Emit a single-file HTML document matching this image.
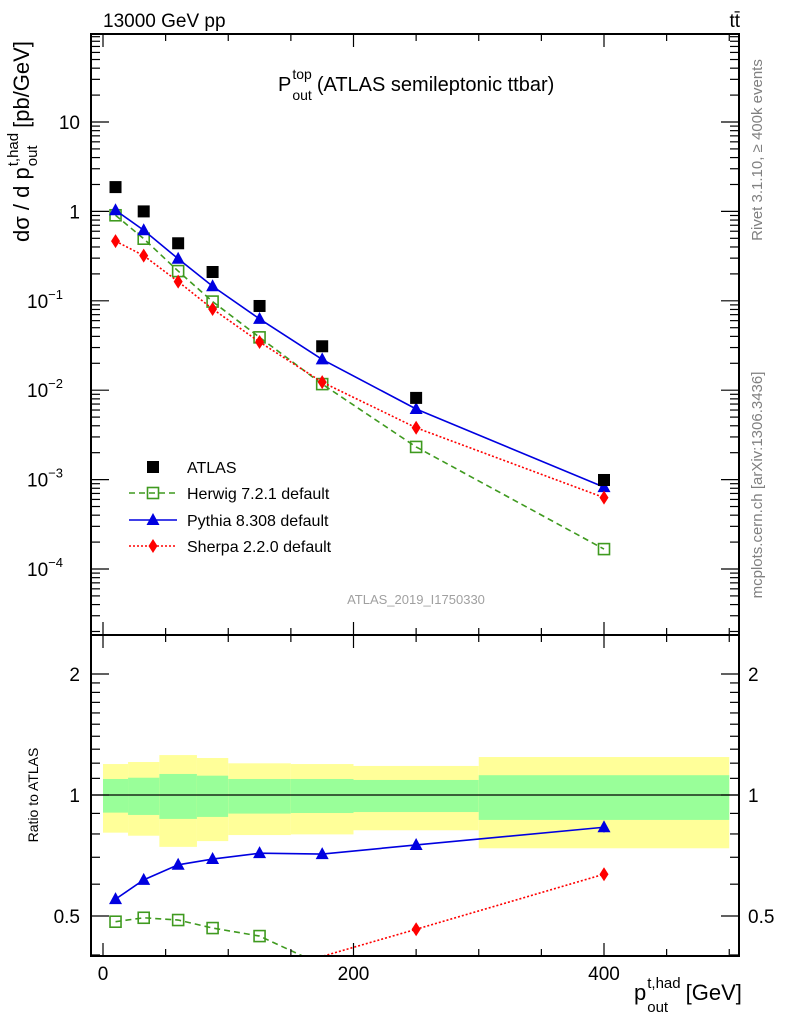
<!DOCTYPE html>
<html><head><meta charset="utf-8">
<style>
html,body{margin:0;padding:0;background:#fff;overflow:hidden;}
svg{display:block;font-family:"Liberation Sans",Arial,sans-serif;}
</style></head>
<body>
<svg id="chart" width="786" height="1024" viewBox="0 0 786 1024" xmlns="http://www.w3.org/2000/svg">
<text x="103" y="27" font-size="19">13000 GeV pp</text>
<text x="740" y="27" font-size="19" text-anchor="end">tt̄</text>
<g id="title"></g>
<g id="ytitle" transform="translate(29,242) rotate(-90)"></g>
<text transform="translate(38,795) rotate(-90)" font-size="14" text-anchor="middle">Ratio to ATLAS</text>
<g id="xtitle"></g>
<text transform="translate(762,150) rotate(-90)" font-size="15" fill="#808080" text-anchor="middle">Rivet 3.1.10, ≥ 400k events</text>
<text transform="translate(762,485) rotate(-90)" font-size="15" fill="#808080" text-anchor="middle">mcplots.cern.ch [arXiv:1306.3436]</text>
<text x="416" y="604" font-size="13" fill="#a0a0a0" text-anchor="middle">ATLAS_2019_I1750330</text>
<g id="g"></g>
</svg>
<script>
const xCenters = [10, 32.5, 60, 87.5, 125, 175, 250, 400];
const binEdges = [0, 20, 45, 75, 100, 150, 200, 300, 500];
const atlas = [1.87, 1.0, 0.44, 0.21, 0.0875, 0.031, 0.0082, 0.00099];
const herwig = [0.905, 0.495, 0.215, 0.098, 0.039, 0.0117, 0.00232, 0.000167];
const pythia = [1.03, 0.615, 0.295, 0.1455, 0.0627, 0.0221, 0.00616, 0.000823];
const sherpa = [0.465, 0.32, 0.164, 0.081, 0.0346, 0.0123, 0.0038, 0.000629];
const totUp = [1.194, 1.208, 1.257, 1.236, 1.199, 1.194, 1.181, 1.243];
const totDn = [0.806, 0.792, 0.743, 0.768, 0.795, 0.798, 0.817, 0.737];
const statUp = [1.096, 1.104, 1.128, 1.117, 1.096, 1.096, 1.09, 1.12];
const statDn = [0.904, 0.892, 0.872, 0.882, 0.899, 0.902, 0.907, 0.867];
const xTickLabels = ["0", "200", "400"];
const yTickExps = [-4, -3, -2, -1, 0, 1];
const rTickLabels = ["0.5", "1", "2"];

const NS = "http://www.w3.org/2000/svg";
const g = document.getElementById('g');
const L = 91, R = 739, T = 34, MB = 635, B = 956;
const X = v => 103 + 1.2525 * v;
const Y = v => 211.4 - 89.4 * Math.log10(v);
const RY = v => 795 - 402 * Math.log10(v);
function mk(tag, attrs, parent) {
  const e = document.createElementNS(NS, tag);
  for (const k in attrs) e.setAttribute(k, attrs[k]);
  (parent || g).appendChild(e);
  return e;
}
function compLabel(parent, x, y, fs, ss, base, sup, sub, tail, supDy, subDy, gap) {
  const t1 = mk('text', {x: x, y: y, 'font-size': fs}, parent);
  t1.textContent = base;
  const w1 = t1.getComputedTextLength();
  const t2 = mk('text', {x: x + w1 + 1, y: y - supDy, 'font-size': ss}, parent);
  t2.textContent = sup;
  const t3 = mk('text', {x: x + w1 + 1, y: y + subDy, 'font-size': ss}, parent);
  t3.textContent = sub;
  const w = Math.max(t2.getComputedTextLength(), t3.getComputedTextLength());
  const t4 = mk('text', {x: x + w1 + w + gap, y: y, 'font-size': fs}, parent);
  t4.textContent = tail;
}
compLabel(document.getElementById('ytitle'), 0, 0, 22, 15, 'dσ / d p', 't,had', 'out', '[pb/GeV]', 11, 8, 6);
compLabel(document.getElementById('xtitle'), 634, 1000, 22, 15, 'p', 't,had', 'out', '[GeV]', 12, 12, 6);
compLabel(document.getElementById('title'), 278, 91, 20, 14, 'P', 'top', 'out', '(ATLAS semileptonic ttbar)', 12, 9, 6);

const defs = mk('defs', {});
const c1 = mk('clipPath', {id: 'cm'}, defs); mk('rect', {x: L, y: T, width: R - L, height: MB - T}, c1);
const c2 = mk('clipPath', {id: 'cr'}, defs); mk('rect', {x: L, y: MB, width: R - L, height: B - MB}, c2);
const gm = mk('g', {'clip-path': 'url(#cm)'});


const gr = mk('g', {'clip-path': 'url(#cr)'});



for (let i = 0; i < xCenters.length; i++) {
  const x0 = X(binEdges[i]), x1 = X(binEdges[i + 1]);
  const yb = mk('rect', {x: x0, y: RY(totUp[i]), width: x1 - x0, height: RY(totDn[i]) - RY(totUp[i]), fill: '#ffff99'}, gr);
  
  
  const gb = mk('rect', {x: x0, y: RY(statUp[i]), width: x1 - x0, height: RY(statDn[i]) - RY(statUp[i]), fill: '#99ff99'}, gr);
  
  
}
const one = mk('line', {x1: L, x2: R, y1: RY(1), y2: RY(1), stroke: '#000', 'stroke-width': 1.3}, gr);



function marker(type, cx, cy, color, parent, name) {
  let e;
  if (type === 'sq') e = mk('rect', {x: cx - 6, y: cy - 6, width: 12, height: 12, fill: '#000'}, parent);
  else if (type === 'osq') e = mk('rect', {x: cx - 5.5, y: cy - 5.5, width: 11, height: 11, fill: 'none', stroke: color, 'stroke-width': 1.6}, parent);
  else if (type === 'tri') e = mk('polygon', {points: `${cx},${cy - 7} ${cx - 6.5},${cy + 5} ${cx + 6.5},${cy + 5}`, fill: color}, parent);
  else e = mk('polygon', {points: `${cx},${cy - 7} ${cx - 4.5},${cy} ${cx},${cy + 7} ${cx + 4.5},${cy}`, fill: color}, parent);
  
  
  return e;
}
// clip a polyline to y <= ymax, returning list of point-runs
function clipRuns(pts, ymax) {
  const runs = []; let cur = [];
  for (let i = 0; i < pts.length; i++) {
    const p = pts[i], inside = p[1] <= ymax;
    if (i > 0) {
      const q = pts[i - 1], qin = q[1] <= ymax;
      if (qin !== inside) {
        const t = (ymax - q[1]) / (p[1] - q[1]);
        const ip = [q[0] + t * (p[0] - q[0]), ymax];
        if (qin) { cur.push(ip); runs.push(cur); cur = []; }
        else cur = [ip];
      }
    }
    if (inside) cur.push(p);
  }
  if (cur.length > 1) runs.push(cur);
  return runs.filter(r => r.length > 1);
}
const series = [
  {d: herwig, c: '#3f9a1f', m: 'osq', dash: '6,4', w: 1.6, n: 'herwig'},
  {d: pythia, c: '#0000e0', m: 'tri', dash: '', w: 1.6, n: 'pythia'},
  {d: sherpa, c: '#ff0000', m: 'dia', dash: '2,2', w: 1.6, n: 'sherpa'}
];
series.forEach(s => {
  const ptsM = xCenters.map((x, i) => `${X(x)},${Y(s.d[i])}`).join(' ');
  const lm = mk('polyline', {points: ptsM, fill: 'none', stroke: s.c, 'stroke-width': s.w, 'stroke-dasharray': s.dash}, gm);
  
  
  const raw = xCenters.map((x, i) => [X(x), RY(s.d[i] / atlas[i])]);
  clipRuns(raw, B).forEach(run => {
    const lr = mk('polyline', {points: run.map(p => p.join(',')).join(' '), fill: 'none', stroke: s.c, 'stroke-width': s.w, 'stroke-dasharray': s.dash}, gr);
    
    
  });
  xCenters.forEach((x, i) => {
    marker(s.m, X(x), Y(s.d[i]), s.c, gm, s.n + '-point');
    const r = s.d[i] / atlas[i];
    const ry = RY(r);
    if (ry < MB - 8 || ry > B - 8) return;
    if (i === xCenters.length - 1) {
      const eb = mk('line', {x1: X(x), x2: X(x), y1: RY(r * 1.03), y2: RY(r / 1.03), stroke: s.c, 'stroke-width': 1.3}, gr);
      
      
    }
    marker(s.m, X(x), ry, s.c, gr, s.n + '-ratio-point');
  });
});
xCenters.forEach((x, i) => marker('sq', X(x), Y(atlas[i]), '#000', gm, 'atlas-point'));

[[T, MB], [MB, B]].forEach(([a, b], k) => {
  const f = mk('rect', {x: L, y: a, width: R - L, height: b - a, fill: 'none', stroke: '#000', 'stroke-width': 2});
  
  
});
for (let v = 0; v <= 500; v += 50) {
  const major = v % 200 === 0, len = major ? 13 : 7;
  [T, MB, B].forEach(yy => {
    if (yy !== T) mk('line', {x1: X(v), x2: X(v), y1: yy, y2: yy - len, stroke: '#000', 'stroke-width': 1.2});
    if (yy !== B) mk('line', {x1: X(v), x2: X(v), y1: yy, y2: yy + len, stroke: '#000', 'stroke-width': 1.2});
  });
}
xTickLabels.forEach(t => {
  const e = mk('text', {x: X(+t), y: 980, 'font-size': 19, 'text-anchor': 'middle'});
  e.textContent = t;
  
  
});
for (let e = -5; e <= 1; e++) {
  for (let m = 1; m <= 9; m++) {
    const v = m * Math.pow(10, e), y = Y(v);
    if (y < T || y > MB) continue;
    const len = m === 1 ? 18 : 9;
    mk('line', {x1: L, x2: L + len, y1: y, y2: y, stroke: '#000', 'stroke-width': 1.2});
    mk('line', {x1: R, x2: R - len, y1: y, y2: y, stroke: '#000', 'stroke-width': 1.2});
  }
}
yTickExps.forEach(e => {
  const t = mk('text', {x: 80, y: Y(Math.pow(10, e)) + 7, 'font-size': 19, 'text-anchor': 'end'});
  
  
  if (e === 0) t.textContent = '1';
  else if (e === 1) t.textContent = '10';
  else {
    t.setAttribute('x', 63);
    t.textContent = '10';
    const s = mk('tspan', {'font-size': 13, dy: -9}, t);
    s.textContent = String(e).replace('-', '−');
  }
});
const rt = [0.4,0.5,0.6,0.7,0.8,0.9,1,1.1,1.2,1.3,1.4,1.5,1.6,1.7,1.8,1.9,2];
rt.forEach(v => {
  const y = RY(v); if (y < MB || y > B) return;
  const major = (v === 0.5 || v === 1 || v === 2), len = major ? 18 : 9;
  mk('line', {x1: L, x2: L + len, y1: y, y2: y, stroke: '#000', 'stroke-width': 1.2});
  mk('line', {x1: R, x2: R - len, y1: y, y2: y, stroke: '#000', 'stroke-width': 1.2});
});
rTickLabels.forEach(t => {
  const a = mk('text', {x: 80, y: RY(+t) + 7, 'font-size': 19, 'text-anchor': 'end'});
  a.textContent = t;
  
  
  const b = mk('text', {x: 748, y: RY(+t) + 7, 'font-size': 19});
  b.textContent = t;
  
  
});
const leg = [
  {t: 'ATLAS', m: 'sq', c: '#000', line: false, y: 467},
  {t: 'Herwig 7.2.1 default', m: 'osq', c: '#3f9a1f', dash: '6,4', line: true, y: 493},
  {t: 'Pythia 8.308 default', m: 'tri', c: '#0000e0', dash: '', line: true, y: 520},
  {t: 'Sherpa 2.2.0 default', m: 'dia', c: '#ff0000', dash: '2,2', line: true, y: 546}
];
leg.forEach(l => {
  const gl = mk('g', {});
  
  
  if (l.line) mk('line', {x1: 129, x2: 177, y1: l.y, y2: l.y, stroke: l.c, 'stroke-width': 1.6, 'stroke-dasharray': l.dash}, gl);
  marker(l.m, 153, l.y, l.c, gl, 'legend-marker');
  const t = mk('text', {x: 187, y: l.y + 6, 'font-size': 16}, gl);
  t.textContent = l.t;
});
</script>
</body></html>
